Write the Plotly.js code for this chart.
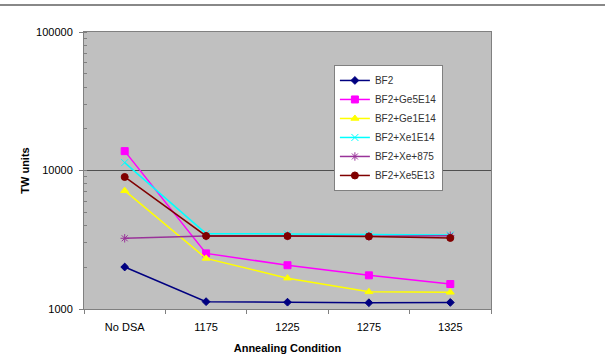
<!DOCTYPE html>
<html>
<head>
<meta charset="utf-8">
<script src="https://cdn.plot.ly/plotly-3.0.1.min.js"></script>
<style>html,body{margin:0;padding:0;background:#fff;}#chart{width:605px;height:356px;}</style>
</head>
<body>
<div id="chart"></div>
<script>
const categories = ["No DSA", "1175", "1225", "1275", "1325"];
const seriesNames = ["BF2", "BF2+Ge5E14", "BF2+Ge1E14", "BF2+Xe1E14", "BF2+Xe+875", "BF2+Xe5E13"];
const bf2 = [2010, 1130, 1120, 1110, 1115];
const ge5e14 = [13800, 2520, 2070, 1750, 1515];
const ge1e14 = [7150, 2320, 1670, 1330, 1320];
const xe1e14 = [11400, 3500, 3480, 3460, 3420];
const xe875 = [3240, 3360, 3370, 3350, 3380];
const xe5e13 = [8980, 3370, 3360, 3340, 3260];
const yTickVals = [1000, 10000, 100000];

const seriesValues = [bf2, ge5e14, ge1e14, xe1e14, xe875, xe5e13];
const colors = ["#000080", "#ff00ff", "#ffff00", "#00ffff", "#993399", "#800000"];
const symbols = ["diamond", "square", "triangle-up", "x-thin-open", "asterisk-open", "circle"];
const sizes = [6, 7, 7, 7, 7, 7];

const traces = seriesValues.map((vals, i) => ({
  type: "scatter",
  mode: "lines+markers",
  name: seriesNames[i],
  x: categories,
  y: vals,
  line: {color: colors[i], width: 1.5},
  marker: {color: colors[i], symbol: symbols[i], size: sizes[i], line: {color: colors[i], width: 1}}
}));

const layout = {
  width: 605, height: 356,
  margin: {l: 84, r: 114, t: 32, b: 47},
  paper_bgcolor: "#ffffff",
  plot_bgcolor: "#c0c0c0",
  font: {family: "Liberation Sans, Arial, sans-serif", size: 11, color: "#000"},
  showlegend: true,
  legend: {
    x: 0.614, y: 0.881, xanchor: "left", yanchor: "top",
    bgcolor: "#ffffff", bordercolor: "#808080", borderwidth: 1,
    font: {size: 10, color: "#333"},
    itemwidth: 30, tracegroupgap: 0
  },
  xaxis: {
    type: "category",
    range: [-0.5, 4.5],
    tickson: "boundaries",
    ticks: "outside", ticklen: 4, tickcolor: "#808080",
    ticklabelstandoff: 8,
    showline: true, linecolor: "#808080", linewidth: 1, mirror: true,
    showgrid: false, zeroline: false,
    tickfont: {size: 11},
    title: {text: "Annealing Condition", font: {size: 11, weight: "bold"}, standoff: 12}
  },
  yaxis: {
    type: "log",
    range: [3, 5],
    tickvals: yTickVals,
    ticktext: yTickVals.map(String),
    ticks: "outside", ticklen: 4, tickcolor: "#808080",
    ticklabelstandoff: 4,
    showline: true, linecolor: "#808080", linewidth: 1, mirror: true,
    showgrid: true, gridcolor: "#505050", gridwidth: 1,
    zeroline: false,
    minor: {ticks: "inside", ticklen: 3, tickcolor: "#808080", showgrid: false, dtick: "D1"},
    tickfont: {size: 11},
    title: {text: "TW units", font: {size: 11, weight: "bold"}, standoff: 4}
  },
  shapes: [{
    type: "line", xref: "paper", yref: "paper",
    x0: -84/407, x1: (605-84)/407, y0: (309-5)/277, y1: (309-5)/277,
    line: {color: "#606060", width: 1.5}
  }]
};

Plotly.newPlot("chart", traces, layout, {displayModeBar: false, staticPlot: true});
</script>
</body>
</html>
